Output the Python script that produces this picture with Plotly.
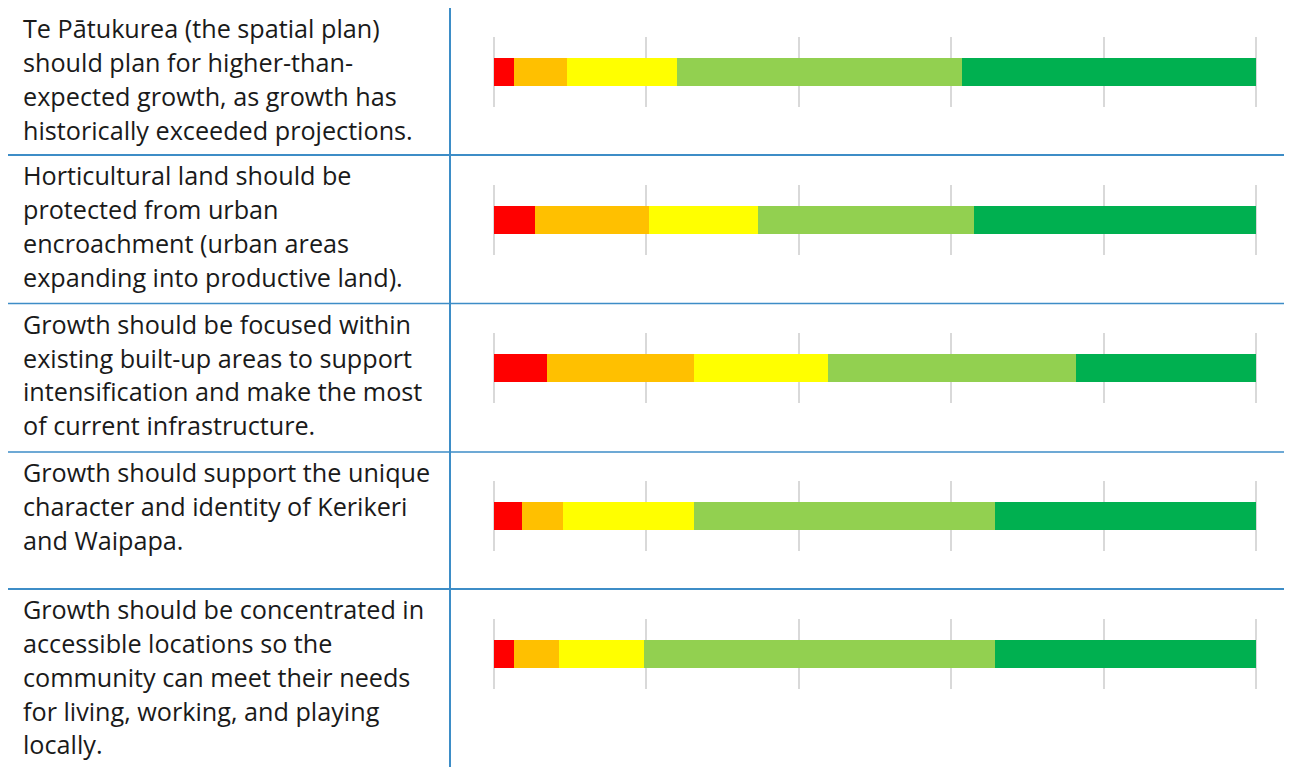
import plotly.graph_objects as go

# ---------------- data ----------------
statements = [
    "Te Pātukurea (the spatial plan)<br>should plan for higher-than-<br>expected growth, as growth has<br>historically exceeded projections.",
    "Horticultural land should be<br>protected from urban<br>encroachment (urban areas<br>expanding into productive land).",
    "Growth should be focused within<br>existing built-up areas to support<br>intensification and make the most<br>of current infrastructure.",
    "Growth should support the unique<br>character and identity of Kerikeri<br>and Waipapa.",
    "Growth should be concentrated in<br>accessible locations so the<br>community can meet their needs<br>for living, working, and playing<br>locally.",
]
levels = ["Strongly disagree", "Disagree", "Neutral", "Agree", "Strongly agree"]
strongly_disagree = [2.6, 5.4, 7.0, 3.7, 2.6]
disagree = [7.0, 14.9, 19.2, 5.4, 5.9]
neutral = [14.4, 14.3, 17.6, 17.1, 11.2]
agree = [37.4, 28.4, 32.6, 39.5, 46.0]
strongly_agree = [38.6, 37.0, 23.6, 34.3, 34.3]
series = [strongly_disagree, disagree, neutral, agree, strongly_agree]
grid_ticks = [0, 20, 40, 60, 80, 100]

# ---------------- style ----------------
colors = ["#FF0000", "#FFC000", "#FFFF00", "#92D050", "#00B050"]
OFF = 8                       # page body margin
W, H = 1292 - OFF, 767 - OFF  # figure size
BLUE = "#3D8DC7"
GRID = "#D9D9D9"
row_tops = [8, 155, 303.5, 452, 589]          # table cell tops (screen px)
bar_bands = [(37, 107), (185, 255), (333, 403), (481, 551), (619, 689)]  # axis domains (screen px)
x0_px, x100_px = 494, 1256
pad = 0.25
ppu = (x100_px - x0_px) / 100.0

def px_x(x):
    return max(0.0, min(1.0, (x - OFF) / W))

def px_y(y):
    return max(0.0, min(1.0, 1 - (y - OFF) / H))

fig = go.Figure()
layout = dict(
    width=W, height=H, autosize=False,
    margin=dict(l=0, r=0, t=0, b=0),
    paper_bgcolor="white", plot_bgcolor="white",
    barmode="stack", showlegend=False,
    font=dict(family="Open Sans", color="#1a1a1a"),
)

for r in range(len(statements)):
    sfx = "" if r == 0 else str(r + 1)
    xa, ya = "x" + sfx, "y" + sfx
    for k, lvl in enumerate(levels):
        fig.add_trace(go.Bar(
            x=[series[k][r]], y=[0], orientation="h", width=0.4,
            name=lvl, marker=dict(color=colors[k], line=dict(width=0)),
            xaxis=xa, yaxis=ya, hoverinfo="skip",
        ))
    top, bot = bar_bands[r]
    layout["xaxis" + sfx] = dict(
        domain=[px_x(x0_px - pad * ppu), px_x(x100_px + pad * ppu)],
        range=[-pad, 100 + pad], anchor=ya,
        tickvals=grid_ticks, showticklabels=False, ticks="",
        showgrid=True, gridcolor=GRID, gridwidth=1.6,
        zeroline=True, zerolinecolor=GRID, zerolinewidth=1.6,
        showline=False, fixedrange=True,
    )
    layout["yaxis" + sfx] = dict(
        domain=[px_y(bot), px_y(top)], range=[-0.5, 0.5], anchor=xa,
        visible=False, showgrid=False, zeroline=False, fixedrange=True,
    )

# statement text, one annotation per line
annotations = []
font_size = 25.2
line_gap = 33.8
for r, text in enumerate(statements):
    for i, line in enumerate(text.split("<br>")):
        baseline = row_tops[r] + 30 + i * line_gap
        center = baseline - 0.388 * font_size
        annotations.append(dict(
            x=px_x(21), y=px_y(center), xref="paper", yref="paper",
            xanchor="left", yanchor="middle", showarrow=False,
            text=line, align="left",
            font=dict(family="Open Sans", size=font_size, color="#1a1a1a"),
        ))
layout["annotations"] = annotations

# table rules
shapes = [dict(type="line", xref="paper", yref="paper",
               x0=px_x(450), x1=px_x(450), y0=px_y(8), y1=0,
               line=dict(color=BLUE, width=2))]
for yb, w in zip([155, 303.5, 452, 589], [2, 1.5, 1.5, 2]):
    shapes.append(dict(type="line", xref="paper", yref="paper",
                       x0=px_x(6), x1=1, y0=px_y(yb), y1=px_y(yb),
                       line=dict(color=BLUE, width=w)))
layout["shapes"] = shapes

fig.update_layout(**layout)
fig.write_html("out.html")
